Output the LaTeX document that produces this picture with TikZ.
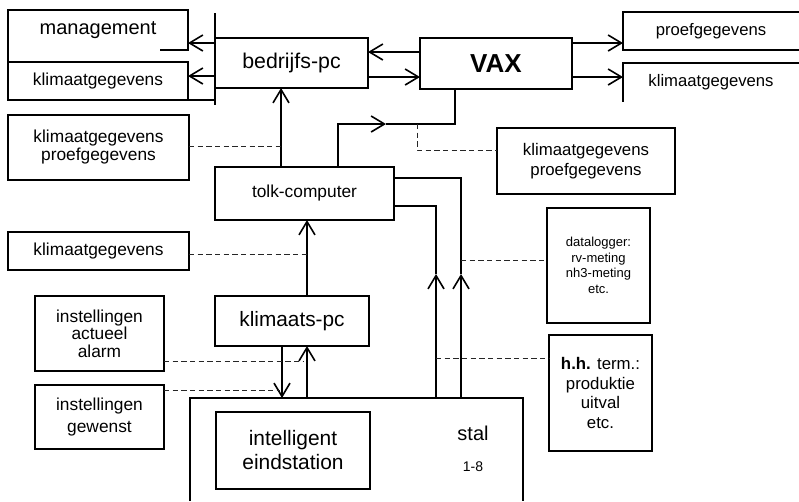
\documentclass[tikz,border=0pt]{standalone}
\usepackage{fontspec}
\setmainfont{Liberation Sans}
\usetikzlibrary{arrows.meta}
\begin{document}
\begin{tikzpicture}[x=0.75pt,y=-0.75pt,
  box/.style={draw, line width=0.8pt, inner sep=0pt, outer sep=0pt, align=center},
  nobox/.style={inner sep=0pt, outer sep=0pt, align=center},
  wh/.style 2 args={minimum width=#1*0.75pt, minimum height=#2*0.75pt},
  fsz/.style 2 args={font=\fontsize{#1}{#2}\selectfont},
  boxline/.style={line width=0.8pt},
  tip/.style={-{Straight Barb[length=10pt,width=12pt,line width=1.2pt]}},
  thickline/.style={line width=1.9pt},
  medline/.style={line width=1.3pt},
  thinline/.style={line width=0.8pt},
  dashline/.style={dash pattern=on 4pt off 2.5pt, line width=0.65pt, black!85}]
\fill[white] (0,0) rectangle (799,501);
\useasboundingbox (0,0) rectangle (799,501);

% top left
\node[nobox, wh={180}{40}, fsz={15pt}{18pt}] (mgmt) at (98,30) {management};
\node[box, wh={180}{38}, fsz={13pt}{15pt}] (klim1) at (98,81) {klimaatgegevens};
\draw[boxline] ([xshift=-21pt]mgmt.south east) -- (mgmt.south east) -- (mgmt.north east) -- (mgmt.north west) -- (klim1.north west);

\node[box, wh={153}{50}, fsz={16pt}{19pt}] (bed) at (291.5,63) {bedrijfs-pc};
\node[box, wh={152}{51}, font=\fontsize{19.5pt}{23pt}\selectfont\bfseries] (vax) at (496,63.5) {VAX};

\draw[medline] (klim1.south east) -- (klim1.south east -| bed.west);
\draw[boxline] (bed.west |- 0,13) -- (bed.west |- 0,105);

% top right
\node[nobox, wh={176}{38}, fsz={12.5pt}{15pt}] (proef1) at (711,31) {proefgegevens};
\draw[boxline] (proef1.north east) -- (proef1.north west) -- (proef1.south west) -- (proef1.south east);
\node[nobox, wh={176}{39}, fsz={12.5pt}{15pt}] (klimr) at (711,82.5) {klimaatgegevens};
\draw[boxline] (klimr.north east) -- (klimr.north west) -- (klimr.south west);

% middle
\node[box, wh={181}{65}, fsz={13pt}{13.5pt}] (kpl) at (98.5,147.5) {klimaatgegevens\\proefgegevens};
\node[box, wh={178}{66}, fsz={12.6pt}{15pt}] (kpr) at (586,161) {klimaatgegevens\\proefgegevens};
\node[box, wh={179}{53}, fsz={13pt}{15pt}] (tolk) at (304.5,193.5) {tolk-computer};
\node[box, wh={181}{38}, fsz={13pt}{15pt}] (klim2) at (98.5,251) {klimaatgegevens};
\node[box, wh={154}{50}, fsz={15.6pt}{18pt}] (klpc) at (292,321) {klimaats-pc};
\node[box, wh={129}{75}, fsz={13pt}{13.2pt}] (ist1) at (99.5,333.5) {instellingen\\actueel\\alarm};
\node[box, wh={129}{64}, fsz={13pt}{16.5pt}] (ist2) at (99.5,417) {instellingen\\gewenst};
\node[box, wh={103}{115}, fsz={9.75pt}{11.6pt}] (dl) at (598.5,265.5) {datalogger:\\rv-meting\\nh3-meting\\etc.};
\node[box, wh={103}{116}, fsz={12.6pt}{14.8pt}] (hh) at (600.5,393) {\textbf{h.h.} term.:\\produktie\\uitval\\etc.};

% stal
\node[nobox, wh={333}{103}] (stal) at (356.5,449.5) {};
\draw[line width=1.3pt] (stal.south west) -- (stal.north west) -- (stal.north east) -- (stal.south east);
\node[nobox, fsz={15pt}{18pt}] (staltxt) at (473,433) {stal};
\node[nobox, fsz={10.5pt}{12pt}] (stalnr) at (473,467) {1-8};
\node[box, wh={154}{77}, fsz={15.7pt}{18pt}] (ie) at (293,450.5) {intelligent\\eindstation};

% connectors top
\draw[medline, tip] (bed.west |- 0,43) -- (mgmt.east |- 0,43);
\draw[thinline, tip] (bed.west |- 0,76) -- (klim1.east |- 0,76);
\draw[medline, tip] (vax.west |- 0,52) -- (bed.east |- 0,52);
\draw[thinline, tip] (bed.east |- 0,77) -- (vax.west |- 0,77);
\draw[thickline, tip] (vax.east |- 0,43) -- (proef1.west |- 0,43);
\draw[thinline, tip] (vax.east |- 0,77) -- (klimr.west |- 0,77);

% tolk to bedrijfs-pc and VAX
\draw[thickline, tip] (tolk.north -| 281,0) -- (bed.south -| 281,0);
\coordinate (tb) at (281,146);
\draw[dashline] (kpl.east |- tb) -- (tb);
\coordinate (m1) at (386,124);
\draw[thickline, tip] (tolk.north -| 338,0) |- (m1);
\draw[thickline] (m1) -| (vax.south -| 455,0);
\draw[dashline] (417,124) |- (kpr.west |- 0,150);

% klimaats-pc
\draw[thickline, tip] (klpc.north -| 307,0) -- (tolk.south -| 307,0);
\coordinate (kt) at (307,254);
\draw[dashline] (klim2.east |- kt) -- (kt);
\draw[medline, tip] (klpc.south -| 282,0) -- (stal.north -| 282,0);
\draw[medline, tip] (stal.north -| 307,0) -- (klpc.south -| 307,0);
\coordinate (a1) at (303,361);
\draw[dashline] (ist1.east |- a1) -- (a1);
\coordinate (a2) at (280,390);
\draw[dashline] (ist2.east |- a2) -- (a2);

% stal to tolk-computer
\coordinate (v1) at (436,274);
\coordinate (v2) at (461,274);
\draw[medline, tip] (stal.north -| v1) -- (v1);
\draw[medline] (v1) |- (tolk.east |- 0,206);
\draw[thickline, tip] (stal.north -| v2) -- (v2);
\draw[thickline] (v2) |- (tolk.east |- 0,178);
\draw[dashline] (461,260) -- (dl.west |- 0,260);
\draw[dashline] (436,358) -- (hh.west |- 0,358);
\end{tikzpicture}
\end{document}
